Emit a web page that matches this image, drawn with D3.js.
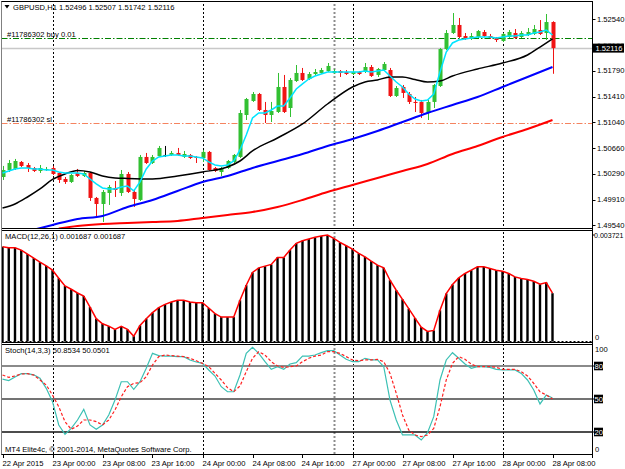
<!DOCTYPE html>
<html><head><meta charset="utf-8">
<script src="https://cdn.jsdelivr.net/npm/d3@7"></script>
<style>
body{margin:0;background:#fff}
svg{display:block}
text{font-family:"Liberation Sans",Arial,sans-serif;font-size:7.6px;fill:#000}
</style>
</head><body>
<svg id="c" width="625" height="469"></svg>
<script>
// ---------- DATA ----------
const timeLabels = ["22 Apr 2015","23 Apr 00:00","23 Apr 08:00","23 Apr 16:00","24 Apr 00:00","24 Apr 08:00","24 Apr 16:00","27 Apr 00:00","27 Apr 08:00","27 Apr 16:00","28 Apr 00:00","28 Apr 08:00"];
const timeLabelIdx = [0,8,16,24,32,40,48,56,64,72,80,88];
const daySeparatorIdx = [8,32,56,80];
const vlineIdx = [53];
const priceTicks = [1.52540,1.52160,1.51790,1.51410,1.51040,1.50660,1.50290,1.49910,1.49540];

const opens = [1.50239,1.50341,1.50356,1.50458,1.50414,1.50370,1.50327,1.50341,1.50370,1.50298,
 1.50210,1.50167,1.50298,1.50254,1.50298,1.49934,1.49846,1.50006,1.50079,1.50006,
 1.50283,1.50021,1.49905,1.50531,1.50443,1.50545,1.50560,1.50560,1.50589,1.50531,
 1.50560,1.50531,1.50516,1.50604,1.50370,1.50312,1.50370,1.50458,1.50531,1.51142,
 1.51346,1.51448,1.51215,1.51142,1.51186,1.51550,1.51244,1.51637,1.51754,1.51666,
 1.51739,1.51754,1.51783,1.51754,1.51783,1.51768,1.51739,1.51768,1.51768,1.51841,
 1.51725,1.51797,1.51797,1.51419,1.51550,1.51448,1.51332,1.51332,1.51171,1.51332,
 1.51564,1.52103,1.52336,1.52453,1.52292,1.52249,1.52278,1.52351,1.52292,1.52263,
 1.52220,1.52278,1.52336,1.52278,1.52307,1.52322,1.52380,1.52336,1.52496];
const closes = [1.50341,1.50443,1.50472,1.50400,1.50370,1.50327,1.50370,1.50356,1.50283,1.50196,
 1.50167,1.50269,1.50254,1.50298,1.49934,1.49846,1.50021,1.50094,1.50050,1.50283,
 1.50021,1.49919,1.50531,1.50443,1.50531,1.50662,1.50560,1.50589,1.50560,1.50574,
 1.50516,1.50516,1.50604,1.50341,1.50327,1.50370,1.50472,1.50560,1.51171,1.51375,
 1.51448,1.51215,1.51142,1.51200,1.51550,1.51186,1.51652,1.51754,1.51652,1.51739,
 1.51768,1.51797,1.51856,1.51783,1.51754,1.51739,1.51768,1.51739,1.51841,1.51710,
 1.51812,1.51885,1.51419,1.51535,1.51463,1.51332,1.51317,1.51171,1.51332,1.51579,
 1.52103,1.52336,1.52453,1.52278,1.52249,1.52292,1.52365,1.52292,1.52263,1.52234,
 1.52322,1.52351,1.52263,1.52336,1.52351,1.52394,1.52322,1.52496,1.52116];
const highs = [1.50400,1.50487,1.50502,1.50472,1.50443,1.50385,1.50414,1.50385,1.50400,1.50312,
 1.50239,1.50283,1.50356,1.50327,1.50312,1.49948,1.50050,1.50123,1.50181,1.50341,
 1.50312,1.50050,1.50560,1.50589,1.50560,1.50691,1.50691,1.50618,1.50662,1.50618,
 1.50574,1.50545,1.50633,1.50618,1.50385,1.50385,1.50487,1.50574,1.51215,1.51390,
 1.51477,1.51463,1.51332,1.51332,1.51754,1.51725,1.51681,1.51870,1.51827,1.51768,
 1.51812,1.51827,1.51899,1.51812,1.51797,1.51797,1.51797,1.51783,1.51899,1.51870,
 1.51827,1.51914,1.51827,1.51564,1.51579,1.51477,1.51404,1.51361,1.51361,1.51594,
 1.52118,1.52380,1.52627,1.52555,1.52336,1.52336,1.52380,1.52380,1.52322,1.52278,
 1.52336,1.52380,1.52394,1.52365,1.52409,1.52453,1.52525,1.52613,1.52507];
const lows = [1.50196,1.50312,1.50341,1.50385,1.50312,1.50312,1.50298,1.50327,1.50269,1.50152,
 1.50138,1.50152,1.50239,1.50239,1.49890,1.49657,1.49584,1.49832,1.49948,1.49963,
 1.50006,1.49803,1.49890,1.50429,1.50429,1.50531,1.50531,1.50545,1.50545,1.50516,
 1.50502,1.50443,1.50458,1.50327,1.50312,1.50254,1.50356,1.50443,1.50516,1.51069,
 1.51332,1.51200,1.51026,1.51040,1.51171,1.51171,1.51113,1.51623,1.51637,1.51652,
 1.51725,1.51739,1.51768,1.51739,1.51696,1.51725,1.51725,1.51725,1.51754,1.51696,
 1.51696,1.51783,1.51404,1.51404,1.51390,1.51302,1.51186,1.51099,1.51069,1.51244,
 1.51550,1.52089,1.52322,1.52263,1.52234,1.52234,1.52263,1.52278,1.52249,1.52205,
 1.52205,1.52263,1.52249,1.52263,1.52292,1.52307,1.52307,1.52234,1.51742];

const maFast = [1.50298,1.50327,1.50356,1.50370,1.50370,1.50356,1.50356,1.50341,1.50341,1.50312,
 1.50298,1.50298,1.50298,1.50283,1.50210,1.50138,1.50079,1.50065,1.50065,1.50094,
 1.50108,1.50036,1.50167,1.50356,1.50472,1.50531,1.50545,1.50560,1.50560,1.50545,
 1.50545,1.50531,1.50516,1.50458,1.50414,1.50400,1.50414,1.50472,1.50633,1.50851,
 1.51099,1.51171,1.51171,1.51215,1.51273,1.51273,1.51390,1.51521,1.51594,1.51666,
 1.51710,1.51739,1.51768,1.51768,1.51768,1.51768,1.51768,1.51768,1.51783,1.51768,
 1.51783,1.51797,1.51710,1.51623,1.51550,1.51448,1.51375,1.51346,1.51361,1.51448,
 1.51768,1.52060,1.52191,1.52234,1.52249,1.52263,1.52278,1.52278,1.52278,1.52263,
 1.52278,1.52292,1.52292,1.52307,1.52307,1.52336,1.52351,1.52380,1.52307];

const maMidIdx = [0,2,4,6,8,10,12,14,16,18,20,24,28,32,36,38,40,44,48,52,56,58,60,62,64,66,68,70,72,76,80,84,86,88];
const maMid = [1.49788,1.49846,1.49948,1.50065,1.50203,1.50283,1.50334,1.50312,1.50254,1.50225,1.50218,1.50210,1.50254,1.50312,1.50385,1.50472,1.50618,1.50807,1.51011,1.51302,1.51550,1.51623,1.51652,1.51696,1.51696,1.51659,1.51623,1.51637,1.51710,1.51812,1.51899,1.52016,1.52132,1.52249];

const maSlowIdx = [5,8,12,16,20,24,28,32,36,40,44,48,52,56,60,64,68,72,76,80,84,88];
const maSlow = [1.49470,1.49541,1.49628,1.49672,1.49803,1.49905,1.50036,1.50167,1.50254,1.50370,1.50472,1.50574,1.50691,1.50793,1.50909,1.51040,1.51171,1.51288,1.51404,1.51550,1.51696,1.51841];

const maLongIdx = [9,12,16,20,24,28,32,36,40,44,48,52,56,60,64,68,72,76,80,84,88];
const maLong = [1.49490,1.49526,1.49555,1.49570,1.49584,1.49599,1.49643,1.49686,1.49730,1.49803,1.49905,1.50021,1.50123,1.50225,1.50327,1.50429,1.50574,1.50691,1.50822,1.50938,1.51069];

const buyLevel = 1.52263, slLevel = 1.51026, bidPrice = 1.52116;

const macd = [0.00331,0.003275,0.003275,0.003194,0.003054,0.002913,0.002773,0.002643,0.002492,0.002211,
 0.001941,0.001825,0.001695,0.00159,0.001204,0.000797,0.000621,0.000537,0.000421,0.000527,
 0.000421,0.000186,0.000562,0.000797,0.001007,0.001183,0.001299,0.00138,0.001439,0.001439,
 0.00138,0.001358,0.001358,0.001169,0.000972,0.000853,0.000853,0.000853,0.001439,0.001966,
 0.002411,0.002573,0.002633,0.002692,0.002938,0.002938,0.003194,0.003429,0.003521,0.00358,
 0.00364,0.003686,0.003721,0.003605,0.003464,0.003345,0.003229,0.003078,0.002959,0.002808,
 0.002668,0.002573,0.002141,0.00179,0.001474,0.001148,0.000818,0.000502,0.000351,0.000386,
 0.001088,0.001674,0.00199,0.002222,0.002376,0.002492,0.002608,0.002608,0.002552,0.002492,
 0.002457,0.002376,0.002257,0.002201,0.002166,0.002106,0.002001,0.00206,0.001687];
const macdMax = 0.003721;

const stochMain = [68,66.7,70,73,73,72,68.8,59.7,47.6,26.4,
 17.9,23.3,30.9,40.6,26.4,22.4,26.4,35.5,49,65.7,
 65.7,58.8,65.7,77.9,91.5,89.4,89,89,88.5,88.5,
 85.5,83.6,82.4,76.4,70.9,61.2,56.6,56.6,71.8,91.5,
 97,91.5,83.9,77,79.4,77,81.8,83,89,89,
 90,92.1,93.9,93.9,90,86.1,83.9,83.9,87,85.5,
 85.5,79.4,49,30.9,17.3,17.3,17.3,12.7,19.4,33.9,
 67.3,85.5,92.1,87,81.8,77.9,79.4,79.4,78.8,77,
 76.4,76.4,76.4,73.3,67.3,58.2,45.5,53.6,50.8534];
const stochSignal = [71.8,69.7,70.9,72.7,73,71.8,67.3,62.7,53.6,43,
 29.4,22.4,25.5,30.9,30.9,29.4,26.4,30.9,40,52.1,
 61.2,64.2,64.8,70.3,80.9,88.5,90,89.4,89,88.5,
 87,84.8,82.4,79.4,73.3,67.3,60.3,56.6,61.8,74.8,
 87,93,90,83.9,80,78.8,79.4,80,83.9,87,
 89,90,93,93,91.5,88.5,85.5,84.8,85.5,85.5,
 86.1,83.9,73.3,55.2,35.5,21.8,17.3,15.8,17.3,23.3,
 43,67.3,82.4,88.5,86.1,81.8,79.4,79.4,79.4,78.8,
 77,77,77,74.8,70.9,64.2,56.6,53.6,50.0501];
const stochLevels = [80,50,20];

// ---------- LAYOUT ----------
const svg = d3.select("#c");
const L = 1.5, R = 592.5;
const P = {main:[1.5,228.5], macd:[230.5,342.5], stoch:[344.5,454.5]};
const x = d3.scaleLinear().domain([0,88]).range([2.5,552.5]);
const yP = d3.scaleLinear().domain([1.4954,1.5254]).range([225,19]);
const yM = d3.scaleLinear().domain([0,macdMax]).range([341.5,235]);
const yS = d3.scaleLinear().domain([0,100]).range([454,344]);
const xr = i => Math.round(x(i)) + 0.5;

const defs = svg.append("defs");
Object.entries(P).forEach(([k,[t,b]]) => {
  defs.append("clipPath").attr("id","clip-"+k).append("rect")
    .attr("x",L).attr("y",t).attr("width",R-L).attr("height",b-t);
});
const gMain = svg.append("g").attr("clip-path","url(#clip-main)");
const gMacd = svg.append("g").attr("clip-path","url(#clip-macd)");
const gSto = svg.append("g").attr("clip-path","url(#clip-stoch)");

// vertical separators in all panels
[gMain,gMacd,gSto].forEach(g => {
  g.selectAll(null).data(daySeparatorIdx).enter().append("line")
    .attr("x1",d=>xr(d)).attr("x2",d=>xr(d)).attr("y1",0).attr("y2",469)
    .attr("stroke","#000").attr("stroke-width",1).attr("stroke-dasharray","2,2");
  g.selectAll(null).data(vlineIdx).enter().append("line")
    .attr("x1",d=>xr(d)).attr("x2",d=>xr(d)).attr("y1",0).attr("y2",469)
    .attr("stroke","#8c8c8c").attr("stroke-width",2).attr("stroke-dasharray","2,2");
});

// ---------- MAIN ----------
gMain.append("line").attr("x1",L).attr("x2",R).attr("y1",Math.round(yP(bidPrice))+0.5).attr("y2",Math.round(yP(bidPrice))+0.5)
  .attr("stroke","#c8c8c8").attr("stroke-width",1.5);
gMain.append("line").attr("x1",L).attr("x2",R).attr("y1",Math.round(yP(buyLevel))+0.5).attr("y2",Math.round(yP(buyLevel))+0.5)
  .attr("stroke","#008000").attr("stroke-width",1).attr("stroke-dasharray","6,2,1.5,2");
gMain.append("line").attr("x1",L).attr("x2",R).attr("y1",Math.round(yP(slLevel))+0.5).attr("y2",Math.round(yP(slLevel))+0.5)
  .attr("stroke","#f5835f").attr("stroke-width",1.2).attr("stroke-dasharray","6,2,1.5,2");

const idx = d3.range(opens.length);
const GREEN = "#32c032", RED = "#f01414";
const col = i => closes[i] > opens[i] ? GREEN : (closes[i] < opens[i] ? RED : "#000");
gMain.selectAll(".wick").data(idx).enter().append("line")
  .attr("x1",xr).attr("x2",xr).attr("y1",i=>yP(highs[i])).attr("y2",i=>yP(lows[i]))
  .attr("stroke",col).attr("stroke-width",1);
gMain.selectAll(".body").data(idx).enter().append("rect")
  .attr("x",i=>xr(i)-2).attr("width",4)
  .attr("y",i=>Math.min(yP(opens[i]),yP(closes[i])))
  .attr("height",i=>Math.max(1,Math.abs(yP(opens[i])-yP(closes[i]))))
  .attr("fill",col);

const lineIdx = (ids, vals) => d3.line().x((d,k)=>x(ids[k])).y(d=>yP(d)).curve(d3.curveMonotoneX)(vals);
gMain.append("path").attr("d",lineIdx(maLongIdx,maLong)).attr("fill","none").attr("stroke","#ff0000").attr("stroke-width",2);
gMain.append("path").attr("d",lineIdx(maSlowIdx,maSlow)).attr("fill","none").attr("stroke","#0000ff").attr("stroke-width",2);
gMain.append("path").attr("d",lineIdx(maMidIdx,maMid)).attr("fill","none").attr("stroke","#000").attr("stroke-width",1.5);
gMain.append("path").attr("d",d3.line().x((d,i)=>x(i)).y(d=>yP(d))(maFast)).attr("fill","none").attr("stroke","#00e4ff").attr("stroke-width",1.5);

// ---------- MACD ----------
gMacd.append("line").attr("x1",L).attr("x2",R).attr("y1",yM(0)).attr("y2",yM(0))
  .attr("stroke","#000").attr("stroke-dasharray","2,2");
gMacd.selectAll(".bar").data(macd).enter().append("rect")
  .attr("x",(d,i)=>x(i)-1.2).attr("width",2.4)
  .attr("y",d=>yM(d)).attr("height",d=>yM(0)-yM(d)).attr("fill","#000");
gMacd.append("path").attr("d",d3.line().x((d,i)=>x(i)).y(d=>yM(d))(macd))
  .attr("fill","none").attr("stroke","#ff0000").attr("stroke-width",1.5);

// ---------- STOCH ----------
const lvlStyle = {80:["#8a8a8a",2],50:["#444",1.5],20:["#111",1.5]};
gSto.selectAll(".lvl").data(stochLevels).enter().append("line")
  .attr("x1",L).attr("x2",R).attr("y1",d=>yS(d)).attr("y2",d=>yS(d))
  .attr("stroke",d=>lvlStyle[d][0]).attr("stroke-width",d=>lvlStyle[d][1]);
gSto.append("path").attr("d",d3.line().x((d,i)=>x(i)).y(d=>yS(d))(stochMain))
  .attr("fill","none").attr("stroke","#3cc0b4").attr("stroke-width",1.2);
gSto.append("path").attr("d",d3.line().x((d,i)=>x(i)).y(d=>yS(d))(stochSignal))
  .attr("fill","none").attr("stroke","#ff2020").attr("stroke-width",1.2).attr("stroke-dasharray","3,2");

// ---------- FRAMES ----------
Object.values(P).forEach(([t,b]) => {
  svg.append("rect").attr("x",L).attr("y",t).attr("width",R-L).attr("height",b-t)
    .attr("fill","none").attr("stroke","#000").attr("stroke-width",1);
});
svg.append("line").attr("x1",L).attr("x2",L).attr("y1",1.5).attr("y2",454.5).attr("stroke","#808080");
svg.append("line").attr("x1",R).attr("x2",R).attr("y1",1.5).attr("y2",458).attr("stroke","#000");

// ---------- PRICE AXIS ----------
const ax = svg.append("g");
ax.selectAll(".pt").data(priceTicks).enter().append("line")
  .attr("x1",R).attr("x2",R+3).attr("y1",d=>Math.round(yP(d))+0.5).attr("y2",d=>Math.round(yP(d))+0.5).attr("stroke","#000");
// tick labels (the one hidden under the current-price box is clipped above it)
defs.append("clipPath").attr("id","clip-hidden").append("rect").attr("x",R).attr("y",0).attr("width",40).attr("height",yP(bidPrice)-4.5);
ax.selectAll(".pl").data(priceTicks).enter().append("text")
  .attr("x",R+4.5).attr("y",d=>yP(d)+2.7)
  .attr("clip-path",d=>Math.abs(yP(d)-yP(bidPrice))<9 ? "url(#clip-hidden)" : null)
  .text(d=>d.toFixed(5));
ax.append("rect").attr("x",R+0.5).attr("y",yP(bidPrice)-4.5).attr("width",31).attr("height",9).attr("fill","#000");
ax.append("text").attr("x",R+3).attr("y",yP(bidPrice)+2.8).style("fill","#fff").text(bidPrice.toFixed(5));

// MACD axis
ax.append("text").attr("x",R+1.5).attr("y",yM(macdMax)+3).attr("textLength",29.5).attr("lengthAdjust","spacingAndGlyphs").text(macdMax.toFixed(6));
ax.append("text").attr("x",R+2.5).attr("y",339.5).text("0");
ax.append("line").attr("x1",R).attr("x2",R+2).attr("y1",yM(macdMax)).attr("y2",yM(macdMax)).attr("stroke","#000");

// Stoch axis
ax.append("text").attr("x",R+2.5).attr("y",351.5).text("100");
ax.append("text").attr("x",R+2.5).attr("y",452).text("0");
stochLevels.forEach(v => {
  ax.append("rect").attr("x",R+1.5).attr("y",yS(v)-4.3).attr("width",9).attr("height",8.6).attr("fill","#000");
  ax.append("text").attr("x",R+2).attr("y",yS(v)+2.8).style("fill","#fff").text(v);
  ax.append("line").attr("x1",R).attr("x2",R+2).attr("y1",yS(v)).attr("y2",yS(v)).attr("stroke","#000");
});

// ---------- TIME AXIS ----------
ax.selectAll(".tt").data(timeLabelIdx).enter().append("line")
  .attr("x1",xr).attr("x2",xr).attr("y1",454.5).attr("y2",458).attr("stroke","#000");
ax.selectAll(".tl").data(timeLabelIdx).enter().append("text")
  .attr("x",(d,k)=>xr(d)-1).attr("y",465.5).text((d,k)=>timeLabels[k]);

// ---------- TITLES ----------
svg.append("path").attr("d","M4.5,5 L9.5,5 L7,8.5 Z").attr("fill","#000");
svg.append("text").attr("x",13).attr("y",10.3)
  .text("GBPUSD,H1  " + [opens[88],highs[88],lows[88],closes[88]].map(v=>v.toFixed(5)).join(" "));
svg.append("text").attr("x",7).attr("y",36.5).text("#11786302 buy 0.01");
svg.append("text").attr("x",7).attr("y",121.5).text("#11786302 sl");
svg.append("text").attr("x",5).attr("y",238.5)
  .text("MACD(12,26,1) " + macd[88].toFixed(6) + " " + macd[88].toFixed(6));
svg.append("text").attr("x",5).attr("y",353)
  .text("Stoch(14,3,3) " + stochMain[88].toFixed(4) + " " + stochSignal[88].toFixed(4));
svg.append("text").attr("x",5).attr("y",451.5).text("MT4 Elite4c, \u00a9 2001-2014, MetaQuotes Software Corp.");
</script>
</body></html>
